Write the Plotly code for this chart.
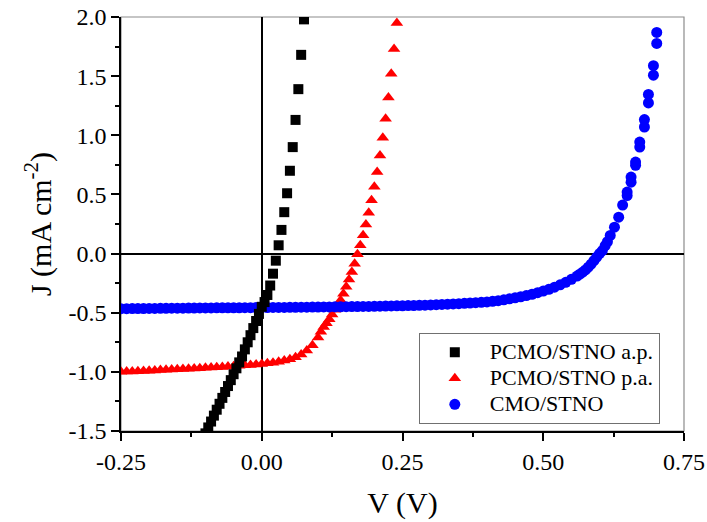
import plotly.graph_objects as go

# ---------------- data ----------------
v_ap = [-0.100, -0.095, -0.090, -0.085, -0.080, -0.075, -0.070, -0.065, -0.060, -0.055,
        -0.050, -0.045, -0.040, -0.035, -0.030, -0.025, -0.020, -0.015, -0.010, -0.005,
        0.000, 0.005, 0.010, 0.015, 0.020, 0.025, 0.030, 0.035, 0.040, 0.045,
        0.050, 0.055, 0.060, 0.065, 0.070, 0.075]
j_ap = [-1.52, -1.47, -1.42, -1.37, -1.32, -1.27, -1.22, -1.17, -1.12, -1.07,
        -1.02, -0.97, -0.92, -0.87, -0.81, -0.75, -0.69, -0.63, -0.57, -0.51,
        -0.45, -0.41, -0.35, -0.27, -0.17, -0.06, 0.07, 0.20, 0.35, 0.51,
        0.70, 0.90, 1.13, 1.39, 1.68, 1.98]

v_pa = [-0.25, -0.24, -0.23, -0.22, -0.21, -0.20, -0.19, -0.18, -0.17, -0.16,
        -0.15, -0.14, -0.13, -0.12, -0.11, -0.10, -0.09, -0.08, -0.07, -0.06,
        -0.05, -0.04, -0.03, -0.02, -0.01, 0.00, 0.01, 0.02, 0.03, 0.04,
        0.05, 0.06, 0.07, 0.08, 0.09, 0.10,
        0.105, 0.110, 0.115, 0.120, 0.125, 0.130, 0.135, 0.140, 0.145, 0.150,
        0.155, 0.160, 0.165, 0.170, 0.175, 0.180, 0.185, 0.190, 0.195, 0.200,
        0.205, 0.210, 0.215, 0.220, 0.225, 0.230, 0.235, 0.240]
j_pa = [-1.000, -0.998, -0.996, -0.994, -0.992, -0.990, -0.988, -0.985, -0.983, -0.980,
        -0.978, -0.976, -0.974, -0.971, -0.969, -0.966, -0.963, -0.961, -0.958, -0.955,
        -0.952, -0.949, -0.945, -0.941, -0.937, -0.933, -0.928, -0.922, -0.915, -0.905,
        -0.893, -0.876, -0.853, -0.820, -0.775, -0.710,
        -0.66, -0.62, -0.59, -0.555, -0.515, -0.475, -0.435, -0.395, -0.34, -0.28,
        -0.22, -0.155, -0.085, -0.005, 0.07, 0.155, 0.245, 0.345, 0.45, 0.565,
        0.69, 0.83, 0.98, 1.14, 1.32, 1.52, 1.73, 1.95]

v_cmo = [-0.25, -0.24, -0.23, -0.22, -0.21, -0.20, -0.19, -0.18, -0.17, -0.16,
         -0.15, -0.14, -0.13, -0.12, -0.11, -0.10, -0.09, -0.08, -0.07, -0.06,
         -0.05, -0.04, -0.03, -0.02, -0.01, 0.00, 0.01, 0.02, 0.03, 0.04,
         0.05, 0.06, 0.07, 0.08, 0.09, 0.10, 0.11, 0.12, 0.13, 0.14,
         0.15, 0.16, 0.17, 0.18, 0.19, 0.20, 0.21, 0.22, 0.23, 0.24,
         0.25, 0.26, 0.27, 0.28, 0.29, 0.30, 0.31, 0.32, 0.33, 0.34,
         0.35, 0.36, 0.37, 0.38, 0.39, 0.40, 0.41, 0.42, 0.43, 0.44, 0.45,
         0.46, 0.47, 0.48, 0.49, 0.50, 0.51, 0.52, 0.53, 0.54, 0.55,
         0.56, 0.565, 0.57, 0.575, 0.58, 0.585, 0.59, 0.595, 0.60, 0.605,
         0.61, 0.614, 0.619, 0.6265, 0.634, 0.641,
         0.649, 0.649, 0.656, 0.656, 0.664, 0.664, 0.6714, 0.6714, 0.6797, 0.6797,
         0.6868, 0.6868, 0.6957, 0.6957, 0.7016, 0.7016]
j_cmo = [-0.466, -0.466, -0.465, -0.465, -0.465, -0.464, -0.464, -0.463, -0.463, -0.462,
         -0.462, -0.462, -0.461, -0.461, -0.460, -0.460, -0.460, -0.459, -0.459, -0.458,
         -0.458, -0.458, -0.457, -0.457, -0.456, -0.456, -0.456, -0.455, -0.455, -0.455,
         -0.454, -0.454, -0.453, -0.453, -0.452, -0.452, -0.451, -0.451, -0.450, -0.450,
         -0.449, -0.448, -0.448, -0.447, -0.447, -0.446, -0.445, -0.444, -0.443, -0.442,
         -0.441, -0.440, -0.439, -0.437, -0.436, -0.434, -0.432, -0.430, -0.428, -0.426,
         -0.424, -0.421, -0.418, -0.415, -0.412, -0.409, -0.404, -0.398, -0.391, -0.383, -0.374,
         -0.365, -0.355, -0.344, -0.331, -0.317, -0.302, -0.284, -0.264, -0.243, -0.218,
         -0.190, -0.174, -0.157, -0.138, -0.115, -0.090, -0.060, -0.030, 0.000, 0.025,
         0.068, 0.100, 0.153, 0.223, 0.308, 0.410,
         0.490, 0.520, 0.604, 0.647, 0.746, 0.774, 0.900, 0.943, 1.070, 1.133,
         1.274, 1.345, 1.508, 1.588, 1.777, 1.870]

x_ticks = [-0.25, 0.00, 0.25, 0.50, 0.75]
x_tick_text = ["-0.25", "0.00", "0.25", "0.50", "0.75"]
y_ticks = [-1.5, -1.0, -0.5, 0.0, 0.5, 1.0, 1.5, 2.0]
y_tick_text = ["-1.5", "-1.0", "-0.5", "0.0", "0.5", "1.0", "1.5", "2.0"]

names = ["PCMO/STNO a.p.", "PCMO/STNO p.a.", "CMO/STNO"]

FONT = "Liberation Serif"


def legend_label(s):
    # larger glyphs, tighter legend row spacing
    return '<span style="font-size:22px">' + s + '</span>'


fig = go.Figure()
fig.add_trace(go.Scatter(x=v_pa, y=j_pa, mode="markers", name=legend_label(names[1]), legendrank=2,
                         marker=dict(symbol="triangle-up", size=11, color="#ff0000", line=dict(width=0))))
fig.add_trace(go.Scatter(x=v_cmo, y=j_cmo, mode="markers", name=legend_label(names[2]), legendrank=3,
                         marker=dict(symbol="circle", size=11, color="#0000ff", line=dict(width=0))))
fig.add_trace(go.Scatter(x=v_ap, y=j_ap, mode="markers", name=legend_label(names[0]), legendrank=1,
                         marker=dict(symbol="square", size=10, color="#000000", line=dict(width=0))))

# gray frame (top/right visible)
fig.add_shape(type="rect", xref="paper", yref="paper", x0=0, x1=1, y0=0, y1=1,
              line=dict(color="#8c8c8c", width=1.2), layer="below")

axis_common = dict(showgrid=False, showline=True, linecolor="black", linewidth=1.5,
                   ticks="outside", ticklen=8, tickwidth=1.5, tickcolor="black",
                   zeroline=True, zerolinecolor="black", zerolinewidth=1.5,
                   automargin=False,
                   tickfont=dict(family=FONT, size=24, color="black"))

fig.update_xaxes(range=[-0.25, 0.75], tickvals=x_ticks, ticktext=x_tick_text,
                 minor=dict(dtick=0.125, tick0=-0.25, ticks="outside", ticklen=4,
                            tickwidth=1.5, tickcolor="black", showgrid=False),
                 title=dict(text="V (V)", font=dict(family=FONT, size=30, color="black"), standoff=18),
                 **axis_common)
fig.update_yaxes(range=[-1.5, 2.0], tickvals=y_ticks, ticktext=y_tick_text,
                 minor=dict(dtick=0.25, tick0=-1.5, ticks="outside", ticklen=4,
                            tickwidth=1.5, tickcolor="black", showgrid=False),
                 title=dict(text="J (mA cm<sup>-2</sup>)", font=dict(family=FONT, size=30, color="black"),
                            standoff=8),
                 **axis_common)

fig.update_layout(
    width=707, height=522,
    font=dict(family=FONT, color="black"),
    margin=dict(l=121, r=23, t=17, b=91),
    paper_bgcolor="white", plot_bgcolor="white",
    showlegend=True,
    legend=dict(x=0.529, y=0.236, xanchor="left", yanchor="top",
                bgcolor="white", bordercolor="#707070", borderwidth=1,
                font=dict(family=FONT, size=17.7, color="black"),
                itemwidth=60),
)

fig.write_html("out.html")
